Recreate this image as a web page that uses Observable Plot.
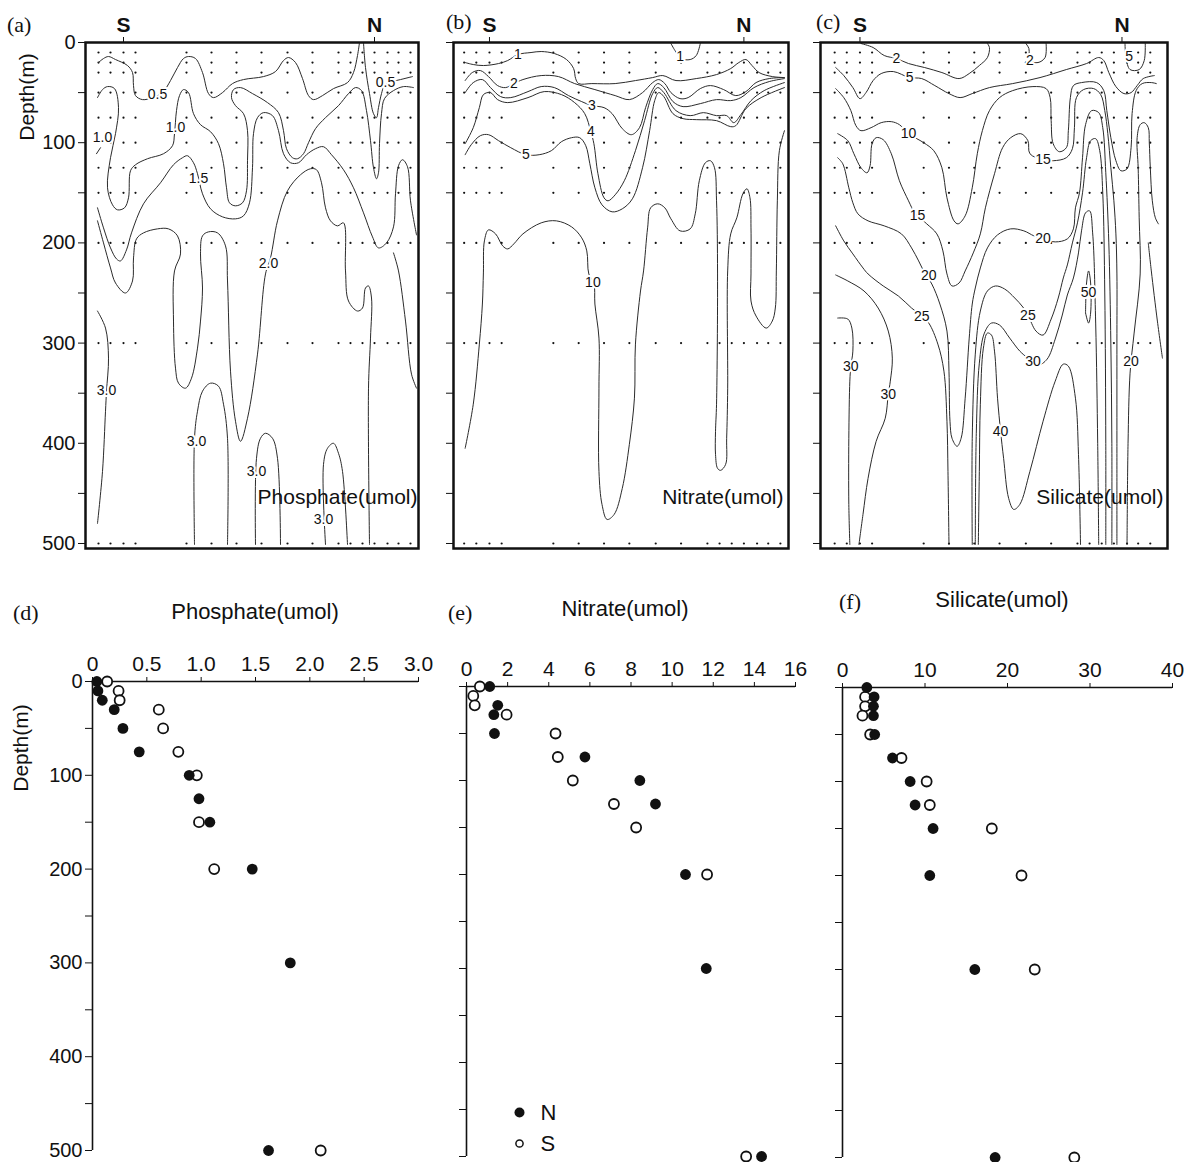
<!DOCTYPE html>
<html><head><meta charset="utf-8">
<script src="https://cdn.jsdelivr.net/npm/d3@7"></script>
<script src="https://cdn.jsdelivr.net/npm/@observablehq/plot@0.6"></script>
<style>
body{margin:0;background:#fff;}
#root{position:relative;width:1190px;height:1162px;overflow:hidden;font-family:"Liberation Sans",Arial,sans-serif;color:#111;}
#root svg{position:absolute;left:0;top:0;}
.lt{position:absolute;font-family:"Liberation Serif","Times New Roman",serif;font-size:22px;line-height:1;}
.tt{position:absolute;font-size:22px;line-height:1;white-space:nowrap;transform:translateX(-50%);}
.yl{position:absolute;font-size:21px;line-height:1;white-space:nowrap;transform:translate(-50%,-50%) rotate(-90deg);}
</style></head><body><div id="root"></div>
<script>
// ---------- station grid (section distance, arbitrary units; S = 0) ----------
const stations = [-25,-13,0,12,63,88,113,138,164,189,215,227,239,251,264,275,287];
const sampleDepths = [10,20,30,50,75,100,125,150,200,300,500];
const depthTicks = [0,50,100,150,200,250,300,350,400,450,500];

// ---------- (a) phosphate section contours [level, [[distance, depth], ...]] ----------
const phosphateContours = [
 ["0.5",[[-25,20],[-20,16],[-15,14],[-8,17],[4,23],[9,30],[10,43],[12,53],[19,57],[29,55],[39,50],[47,38],[54,25],[60,16],[65,14],[72,16],[79,30],[85,51],[90,55],[99,50],[109,41],[120,37],[140,34],[152,29],[160,18],[165,15],[172,20],[179,36],[185,53],[190,57],[199,53],[210,46],[224,40],[230,30],[234,13],[236,0]]],
 ["0.5",[[240,0],[242,25],[246,51],[250,71],[253,75],[255,65],[258,51],[261,43],[269,39],[277,37],[289,34]]],
 ["1.0",[[-26,55],[-21,47],[-16,44],[-9,46],[-5,65],[-8,91],[-13,115],[-16,145],[-11,162],[-6,167],[1,165],[5,155],[7,128],[12,122],[24,116],[40,111],[49,103],[51,91],[53,68],[56,53],[60,47],[65,50],[70,71],[77,82],[87,89],[95,101],[100,121],[103,145],[106,160],[112,163],[119,160],[123,148],[124,118],[124,88],[120,71],[112,63],[108,55],[110,47],[117,45],[129,51],[144,60],[155,70],[160,88],[163,106],[169,115],[174,116],[180,111],[185,100],[192,86],[202,75],[215,63],[225,51],[232,45],[238,48],[243,68],[247,98],[250,125],[253,136],[255,130],[256,101],[258,71],[261,56],[270,48],[280,44],[290,45]]],
 ["1.0",[[-27,111],[-23,105]]],
 ["1.5",[[-26,165],[-20,185],[-13,205],[-7,216],[-3,218],[3,207],[8,190],[20,161],[37,140],[50,122],[59,115],[64,113],[70,120],[74,131],[79,151],[87,166],[99,174],[112,176],[120,173],[126,160],[129,125],[130,91],[134,75],[140,70],[149,73],[155,88],[160,111],[167,120],[175,120],[183,112],[192,106],[200,104],[208,112],[220,127],[230,145],[240,170],[249,194],[255,205],[263,200],[270,184],[272,151],[275,123],[279,117],[284,124],[287,158],[293,192]]],
 ["2.0",[[-26,178],[-20,200],[-13,225],[-8,240],[2,250],[9,238],[10,215],[13,196],[20,190],[34,186],[45,186],[54,193],[57,211],[51,228],[50,278],[52,325],[55,340],[62,345],[68,335],[74,305],[77,278],[79,245],[77,211],[79,193],[85,189],[94,190],[102,203],[104,238],[107,328],[112,378],[117,398],[124,375],[134,311],[142,231],[147,215],[154,178],[164,148],[177,132],[187,126],[193,127],[198,140],[202,165],[207,178],[214,183],[220,180],[222,228],[225,258],[234,268],[239,265],[242,245],[245,243],[248,255],[247,295],[245,345],[246,501]]],
 ["2.0",[[270,210],[275,228],[282,278],[288,331],[293,345]]],
 ["3.0",[[-26,268],[-18,285],[-15,315],[-17,348],[-18,368],[-21,428],[-26,480]]],
 ["3.0",[[71,501],[71,395],[74,368],[79,348],[87,340],[95,343],[100,361],[104,395],[104,501]]],
 ["3.0",[[132,501],[133,415],[137,395],[142,390],[149,395],[154,415],[157,501]]],
 ["3.0",[[202,501],[200,421],[204,405],[210,400],[215,410],[219,428],[224,501]]]
];
const phosphateLabels = [["0.5",34,52],["0.5",262,40],["1.0",52,85],["1.0",-21,95],["1.5",75,136],["2.0",145,221],["3.0",-17,347],["3.0",73,398],["3.0",133,428],["3.0",200,476]];

// ---------- (b) nitrate section contours ----------
const nitrateContours = [
 ["1",[[-24,20],[-16,22],[-6,23],[9,21],[18,18],[28,12],[41,10],[51,9],[64,11],[76,17],[83,26],[85,36],[88,41],[101,41],[124,41],[144,38],[161,35],[171,33],[184,38],[204,36],[224,32],[238,26],[246,20],[253,17],[259,23],[266,30],[279,34],[291,35]]],
 ["1",[[179,1],[183,8],[189,16],[198,17],[204,13],[208,1]]],
 ["2",[[-24,38],[-17,30],[-9,28],[-1,34],[8,43],[16,45],[24,41],[33,37],[51,33],[68,34],[84,41],[104,47],[124,53],[138,57],[151,50],[161,40],[167,37],[173,41],[179,50],[188,56],[196,55],[208,46],[218,43],[231,47],[243,53],[253,49],[263,40],[276,36],[291,35]]],
 ["3",[[-24,50],[-16,40],[-7,37],[1,45],[11,54],[21,55],[38,49],[51,44],[64,45],[78,53],[91,59],[101,63],[113,65],[121,71],[131,86],[140,92],[148,85],[154,65],[161,47],[166,41],[172,45],[181,59],[191,64],[208,61],[224,57],[238,58],[248,55],[261,45],[276,39],[291,36]]],
 ["4",[[-24,101],[-16,85],[-10,65],[-6,52],[1,50],[8,57],[18,60],[38,55],[54,49],[71,52],[84,60],[94,71],[100,89],[103,101],[107,131],[113,155],[117,158],[124,152],[133,138],[144,108],[153,78],[161,51],[166,45],[172,50],[184,68],[198,73],[211,70],[224,73],[234,73],[241,80],[248,72],[258,58],[271,48],[291,40]]],
 ["5",[[-24,112],[-18,102],[-9,93],[-1,92],[9,98],[21,105],[36,112],[49,112],[61,108],[71,99],[81,95],[89,95],[95,103],[99,121],[104,145],[111,162],[121,169],[131,166],[141,156],[151,125],[158,88],[163,58],[167,50],[172,54],[181,71],[191,76],[204,77],[224,78],[238,84],[243,83],[253,66],[268,55],[291,45]]],
 ["10",[[-24,405],[-16,361],[-10,301],[-7,261],[-6,230],[-5,198],[-1,187],[6,191],[13,203],[18,206],[24,201],[33,191],[51,180],[66,178],[81,184],[91,195],[96,208],[98,231],[103,240],[104,261],[108,295],[108,345],[108,428],[111,461],[116,476],[123,471],[131,445],[138,401],[143,355],[144,301],[149,248],[152,228],[156,185],[159,165],[166,161],[173,165],[179,176],[188,188],[198,186],[203,171],[207,138],[213,120],[218,118],[222,125],[224,158],[225,231],[224,361],[223,388],[223,411],[225,425],[228,427],[233,421],[234,395],[235,345],[235,228],[238,191],[244,175],[250,151],[254,146],[257,155],[258,185],[258,231],[258,258],[263,273],[273,285],[279,278],[282,265],[283,228],[284,158],[286,108],[291,88]]]
];
const nitrateLabels = [["1",28,12],["1",188,14],["2",24,41],["3",101,63],["4",100,89],["5",36,112],["10",102,240]];

// ---------- (c) silicate section contours ----------
const silicateContours = [
 ["2",[[1,1],[13,5],[24,13],[36,16],[48,21],[64,25],[81,30],[98,36],[108,31],[118,23],[126,15],[128,5],[126,1]]],
 ["2",[[164,1],[167,6],[168,18],[176,20],[183,15],[184,1]]],
 ["5",[[-24,25],[-16,33],[-7,45],[0,56],[6,50],[13,38],[21,31],[33,29],[49,35],[61,36],[74,43],[88,51],[99,55],[111,51],[128,45],[151,41],[178,35],[204,27],[224,21],[236,15],[241,18],[246,30],[253,44],[261,51],[268,50],[274,43],[280,36],[291,33]]],
 ["5",[[262,1],[263,15],[267,27],[276,27],[281,18],[282,1]]],
 ["10",[[-24,46],[-16,55],[-9,68],[-4,83],[1,88],[11,85],[21,80],[31,79],[39,82],[48,91],[63,100],[73,108],[81,125],[86,155],[93,178],[97,181],[104,173],[111,145],[116,111],[121,88],[128,68],[138,55],[151,48],[171,44],[184,46],[188,55],[189,78],[191,101],[197,109],[204,105],[206,88],[208,55],[211,43],[219,40],[234,40],[241,48],[244,68],[248,95],[253,118],[258,128],[264,126],[268,105],[269,71],[273,48],[279,41],[288,40],[293,41]]],
 ["15",[[-22,91],[-12,98],[-6,111],[1,125],[7,130],[10,123],[12,101],[16,95],[23,97],[31,111],[39,138],[48,158],[54,170],[57,173],[66,181],[76,191],[82,208],[86,231],[91,243],[98,240],[104,228],[112,210],[119,191],[124,165],[133,131],[141,105],[149,95],[159,91],[166,98],[168,111],[181,117],[191,118],[204,115],[210,106],[212,85],[214,55],[221,47],[231,46],[238,52],[242,68],[245,91],[248,125],[251,158],[253,191],[254,231],[254,300],[254,400],[254,501]]],
 ["15",[[285,200],[288,228],[294,278],[299,315]]],
 ["20",[[-22,115],[-17,121],[-11,145],[-7,160],[-2,171],[8,178],[24,183],[41,191],[51,205],[58,218],[64,230],[71,241],[79,261],[86,288],[88,328],[89,378],[91,395],[96,403],[100,395],[104,355],[108,295],[111,261],[114,245],[119,225],[126,205],[136,192],[149,186],[162,188],[172,193],[181,196],[193,199],[205,196],[211,186],[213,165],[217,150],[220,115],[223,82],[229,68],[236,70],[240,85],[243,130],[246,200],[248,300],[249,400],[249,501]]],
 ["20",[[264,501],[265,400],[267,330],[271,290],[277,231],[276,175],[275,125],[274,95],[277,82],[281,80],[285,85],[286,100],[287,125],[289,158],[292,175],[295,181]]],
 ["25",[[-24,183],[-16,198],[-7,211],[3,225],[8,231],[23,243],[38,253],[51,265],[61,273],[68,280],[77,301],[83,328],[86,378],[87,428],[88,501]]],
 ["25",[[111,501],[111,395],[114,311],[119,268],[126,248],[134,243],[143,246],[153,255],[161,264],[166,272],[174,288],[181,292],[189,276],[196,255],[201,235],[205,222],[210,200],[215,180],[220,150],[224,115],[228,98],[233,96],[237,108],[240,150],[242,250],[243,400],[243,501]]],
 ["30",[[-22,275],[-12,276],[-8,285],[-7,308],[-9,323],[-10,338],[-11,395],[-11,461],[-10,501]]],
 ["30",[[-24,232],[-12,238],[4,248],[18,265],[28,288],[32,315],[30,338],[28,351],[25,375],[16,398],[8,435],[3,471],[-1,501]]],
 ["30",[[114,501],[115,390],[118,320],[123,290],[130,280],[138,282],[148,295],[158,308],[166,315],[176,322],[185,316],[193,296],[200,272],[205,252],[211,235],[216,210],[219,188],[223,170],[227,168],[230,190],[233,280],[235,400],[236,501]]],
 ["40",[[117,501],[118,428],[119,361],[122,305],[126,290],[130,292],[133,308],[136,355],[139,388],[142,415],[147,455],[152,466],[158,461],[168,428],[181,378],[193,338],[201,321],[206,323],[213,355],[216,411],[218,501]]],
 ["50",[[223,270],[224,240],[226,228],[228,240],[228,270],[226,280],[223,270]]]
];
const silicateLabels = [["2",36,16],["2",168,18],["5",49,35],["5",266,14],["10",48,91],["15",57,173],["15",181,117],["20",68,233],["20",181,196],["20",268,318],["25",61,273],["25",166,272],["30",-9,323],["30",28,351],["30",171,318],["40",139,388],["50",226,250]];

// ---------- (d)-(f) mean profiles: N (filled) and S (open) ----------
const phosDepthN = [0,10,20,30,50,75,100,125,150,200,300,500];
const phosN      = [0.04,0.05,0.09,0.20,0.28,0.43,0.89,0.98,1.08,1.47,1.82,1.62];
const phosDepthS = [0,10,20,30,50,75,100,150,200,500];
const phosS      = [0.135,0.24,0.25,0.61,0.65,0.79,0.96,0.98,1.12,2.10];

const nitrDepthN = [0,20,30,50,75,100,125,200,300,500];
const nitrN      = [1.13,1.52,1.33,1.36,5.76,8.43,9.19,10.65,11.66,14.35];
const nitrDepthS = [0,10,20,30,50,75,100,125,150,200,500];
const nitrS      = [0.65,0.33,0.40,1.95,4.33,4.44,5.17,7.17,8.25,11.70,13.60];

const silDepthN = [0,10,20,30,50,75,100,125,150,200,300,500];
const silN      = [2.95,3.83,3.75,3.75,3.90,6.06,8.20,8.80,10.98,10.58,16.04,18.50];
const silDepthS = [10,20,30,50,75,100,125,150,200,300,500];
const silS      = [2.74,2.74,2.42,3.35,7.15,10.20,10.58,18.10,21.70,23.30,28.10];

const phosTicks = [0,0.5,1.0,1.5,2.0,2.5,3.0];
const nitrTicks = [0,2,4,6,8,10,12,14,16];
const silTicks  = [0,10,20,30,40];

// ---------- drawing ----------
const root = document.getElementById("root");
const FONT = "'Liberation Sans', Arial, Helvetica, sans-serif";
const baseStyle = {background:"none", fontFamily:FONT, fontSize:"20px", color:"#111", overflow:"visible"};

function sectionPlot({frameL, frameR, xDomain, nAt, contours, labels, name, nameDx, yLabels}) {
  const lines = contours.flatMap(([lvl, pts], i) => pts.map(([d, z]) => ({id:i, lvl, d, z})));
  const grid = stations.flatMap(s => sampleDepths.map(z => ({d:s, z})));
  return Plot.plot({
    width:1190, height:1162,
    marginLeft:frameL, marginRight:1190-frameR, marginTop:42, marginBottom:1162-548,
    x:{domain:xDomain, axis:null, label:null},
    y:{domain:[0,505], reverse:true, axis:null, label:null},
    style:baseStyle,
    marks:[
      Plot.dot(grid, {x:"d", y:"z", r:1.1, fill:"#111", stroke:"none"}),
      Plot.line(lines, {x:"d", y:"z", z:"id", stroke:"#2b2b2b", strokeWidth:1, curve:"catmull-rom"}),
      Plot.text(labels, {x:d=>d[1], y:d=>d[2], text:d=>d[0], fontSize:14, fill:"#111", stroke:"white", strokeWidth:4}),
      Plot.text([name], {frameAnchor:"bottom-right", dx:nameDx, dy:-45, fontSize:21, fill:"#111"}),
      Plot.axisX({anchor:"top", label:null, ticks:[0,nAt], tickFormat:d=>d===0?"S":"N", tickSize:6, tickPadding:5, fontSize:21, fontWeight:"bold", stroke:"#111"}),
      Plot.axisY({anchor:"left", label:null, ticks:depthTicks, tickFormat: yLabels ? (d=>d%100===0?String(d):"") : (()=>""), tickSize:7, tickPadding:3, fontSize:20, stroke:"#111"}),
      Plot.frame({stroke:"#111", strokeWidth:2.5})
    ]
  });
}

function profilePlot({x0, x1, y0, y1, xDomain, xTicks, xFmt, dN, vN, dS, vS, yLabels, legend}) {
  const N = dN.map((z,i)=>({z, v:vN[i]}));
  const S = dS.map((z,i)=>({z, v:vS[i]}));
  const marks = [
    Plot.ruleY([0], {stroke:"#111", strokeWidth:1.6}),
    Plot.ruleX([xDomain[0]], {stroke:"#111", strokeWidth:1.6}),
    Plot.axisX({anchor:"top", label:null, ticks:xTicks, tickFormat:xFmt, tickSize:5, tickPadding:6, fontSize:21, stroke:"#111"}),
    Plot.axisY({anchor:"left", label:null, ticks:depthTicks, tickFormat: yLabels ? (d=>d%100===0?String(d):"") : (()=>""), tickSize:7, tickPadding:3, fontSize:20, stroke:"#111"}),
    Plot.dot(S, {x:"v", y:"z", r:5, fill:"white", stroke:"#111", strokeWidth:1.8}),
    Plot.dot(N, {x:"v", y:"z", r:5.4, fill:"#111", stroke:"none"})
  ];
  if (legend) {
    marks.push(
      Plot.dot([1], {frameAnchor:"bottom-left", dx:53, dy:-44, r:5, fill:"#111", stroke:"none"}),
      Plot.dot([1], {frameAnchor:"bottom-left", dx:53, dy:-13, r:3.6, fill:"white", stroke:"#111", strokeWidth:1.5}),
      Plot.text(["N"], {frameAnchor:"bottom-left", dx:74, dy:-44, lineAnchor:"middle", textAnchor:"start", fontSize:22, fill:"#111"}),
      Plot.text(["S"], {frameAnchor:"bottom-left", dx:74, dy:-13, lineAnchor:"middle", textAnchor:"start", fontSize:22, fill:"#111"})
    );
  }
  return Plot.plot({
    width:1190, height:1162,
    marginLeft:x0, marginRight:1190-x1, marginTop:y0, marginBottom:1162-y1,
    x:{domain:xDomain, axis:null, label:null},
    y:{domain:[0,500], reverse:true, axis:null, label:null},
    style:baseStyle,
    marks
  });
}

root.appendChild(sectionPlot({frameL:85, frameR:418, xDomain:[-38,295], nAt:251, contours:phosphateContours, labels:phosphateLabels, name:"Phosphate(umol)", nameDx:-1, yLabels:true}));
root.appendChild(sectionPlot({frameL:453, frameR:788, xDomain:[-35.5,295], nAt:251, contours:nitrateContours, labels:nitrateLabels, name:"Nitrate(umol)", nameDx:-5, yLabels:false}));
root.appendChild(sectionPlot({frameL:820, frameR:1167, xDomain:[-39,304], nAt:259, contours:silicateContours, labels:silicateLabels, name:"Silicate(umol)", nameDx:-4, yLabels:false}));

const fmt1 = d => d===0 ? "0" : d.toFixed(1);
root.appendChild(profilePlot({x0:92, x1:418, y0:681, y1:1150, xDomain:[0,3], xTicks:phosTicks, xFmt:fmt1, dN:phosDepthN, vN:phosN, dS:phosDepthS, vS:phosS, yLabels:true}));
root.appendChild(profilePlot({x0:466, x1:795, y0:686, y1:1156, xDomain:[0,16], xTicks:nitrTicks, xFmt:d=>String(d), dN:nitrDepthN, vN:nitrN, dS:nitrDepthS, vS:nitrS, yLabels:false, legend:true}));
root.appendChild(profilePlot({x0:842, x1:1172, y0:687, y1:1157, xDomain:[0,40], xTicks:silTicks, xFmt:d=>String(d), dN:silDepthN, vN:silN, dS:silDepthS, vS:silS, yLabels:false}));

// ---------- text annotations ----------
function addDiv(cls, text, left, top) {
  const el = document.createElement("div");
  el.className = cls; el.textContent = text;
  el.style.left = left + "px"; el.style.top = top + "px";
  root.appendChild(el);
}
addDiv("lt","(a)",7,14);
addDiv("lt","(b)",446,11);
addDiv("lt","(c)",816,11);
addDiv("lt","(d)",13,602);
addDiv("lt","(e)",448,602);
addDiv("lt","(f)",839,591);
addDiv("tt","Phosphate(umol)",255,601);
addDiv("tt","Nitrate(umol)",625,598);
addDiv("tt","Silicate(umol)",1002,589);
addDiv("yl","Depth(m)",26,97);
addDiv("yl","Depth(m)",20,748);
</script>
</body></html>
